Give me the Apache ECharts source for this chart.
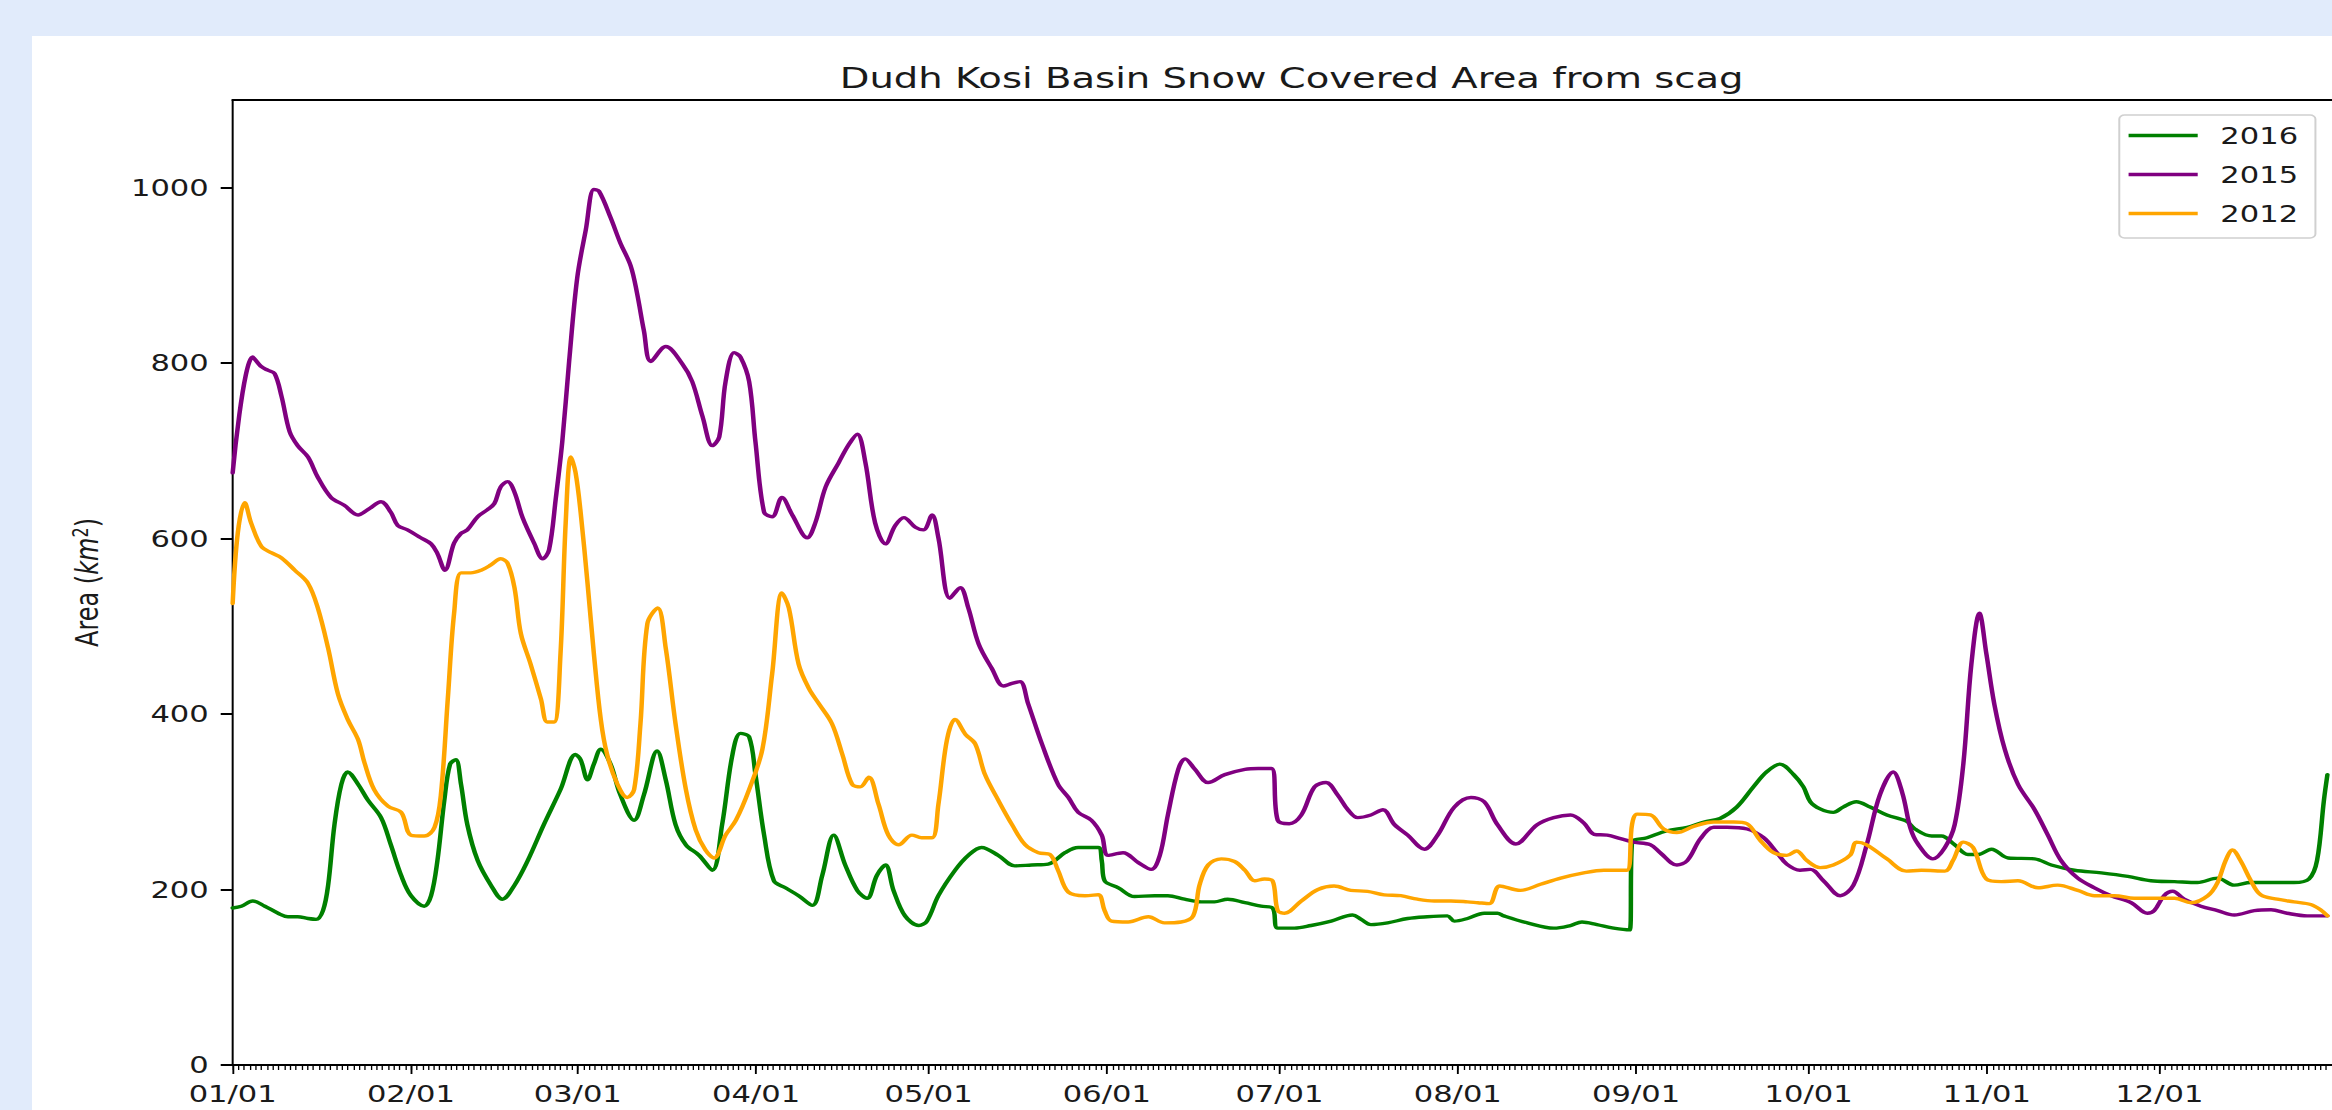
<!DOCTYPE html>
<html>
<head>
<meta charset="utf-8">
<title>Dudh Kosi Basin Snow Covered Area from scag</title>
<script src="https://cdn.jsdelivr.net/npm/echarts@6/dist/echarts.min.js"></script>
<style>
  html, body { margin: 0; padding: 0; width: 2332px; height: 1110px; overflow: hidden; background: #e1ebfb; }
  #panel { position: absolute; left: 32px; top: 36px; width: 2300px; height: 1074px; background: #ffffff; }
  /* the figure is laid out at its native width and stretched horizontally to fill the page */
  #chart { position: absolute; left: 0; top: 0; width: 1754px; height: 1110px; transform-origin: 0 0; }
</style>
</head>
<body>
<div id="panel"></div>
<div id="chart"></div>
<script>
// Day of year (2016 calendar, 0 = 01/01) for the first day of each month, and its tick label
const monthStartDays = [0, 31, 60, 91, 121, 152, 182, 213, 244, 274, 305, 335];
const monthLabels = ['01/01', '02/01', '03/01', '04/01', '05/01', '06/01',
                     '07/01', '08/01', '09/01', '10/01', '11/01', '12/01'];
const areaTicks = [0, 200, 400, 600, 800, 1000];

// 2016 snow covered area (km^2): day of year, value
const days2016 = [0, 1.5, 3.5, 5.6, 7.9, 9.6, 11.3, 13.1, 14.5, 15.7, 16.6, 17.7, 18.9, 20, 21.8, 23.5, 25.8, 27.5, 29.3, 31,
  33.3, 34.5, 35.6, 36.8, 37.8, 38.8, 39.7, 40.8, 42.6, 44.9, 46.9, 49, 51.3, 54.1, 57, 59.6, 60.5, 61.7, 62.8, 64,
  65.7, 67.4, 69.8, 71.5, 73.8, 75.3, 77, 78.8, 81.1, 83.4, 85.1, 86.9, 88.3, 89.8, 90.9, 92.4, 94.1, 96.1, 98.4, 100.8,
  102.5, 104.5, 106.5, 108.6, 110.3, 112, 113.5, 114.9, 116.9, 119.3, 120.7, 122.7, 125.6, 127.9, 130.2, 133.1, 136, 138.9, 141.8, 144.7,
  147, 150.5, 151.1, 151.6, 154, 156.8, 160.3, 162.6, 165.5, 168.4, 170.7, 173, 176, 178.8, 180.8, 181.7, 184.6, 187.5, 191, 194.7,
  196.2, 197.9, 200.8, 204.3, 207.7, 211.2, 212.4, 214.7, 217.6, 219.9, 221, 225.1, 229.7, 232.6, 234.6, 237.2, 240.1, 242.9, 243.3, 245.9,
  249.4, 252.9, 255.8, 258.6, 261.5, 264.4, 266.7, 269, 271.4, 273.1, 274.3, 276, 278.3, 280, 282.3, 284.7, 287.6, 291, 292.5, 295.4,
  297.1, 299.4, 301.7, 303.5, 305.8, 308.7, 313.3, 316.2, 320.2, 324.9, 329.5, 333.5, 337.6, 341.6, 345.1, 348, 350.9, 354.9, 358.4, 361,
  362.4, 363.6, 364.2];
const area2016 = [179, 181, 187, 181, 173, 169, 169, 167, 166, 176, 205, 274, 320, 334, 320, 302, 282, 251, 216, 193,
  181, 193, 233, 302, 343, 348, 320, 274, 233, 205, 189, 205, 233, 274, 314, 354, 348, 325, 343, 360,
  343, 308, 279, 308, 358, 325, 274, 251, 239, 222, 274, 354, 378, 374, 331, 262, 210, 202, 193, 182,
  216, 262, 228, 199, 190, 216, 228, 199, 170, 159, 164, 193, 222, 239, 248, 239, 227, 228, 229, 242,
  248, 248, 233, 210, 202, 192, 193, 193, 189, 186, 186, 189, 185, 181, 179, 156, 156, 159, 164, 171,
  166, 160, 162, 167, 169, 170, 164, 167, 173, 173, 170, 162, 156, 159, 163, 160, 156, 154, 254, 259,
  267, 271, 277, 281, 294, 317, 334, 343, 331, 317, 300, 292, 288, 294, 300, 294, 285, 278, 269, 261,
  261, 251, 240, 240, 246, 236, 235, 228, 222, 219, 215, 210, 209, 208, 213, 205, 208, 208, 208, 212,
  233, 302, 331];

// 2015 snow covered area (km^2)
const days2015 = [0, 3.5, 5, 6.1, 7.3, 8.5, 9.9, 11.3, 13.1, 14.8, 17.1, 19.4, 21.8, 23.5, 25.8, 27.5, 28.7, 30.4, 32.7, 34.5,
  35.6, 36.9, 38.5, 39.7, 40.8, 42.6, 44.3, 45.5, 46.6, 47.8, 49, 50.4, 52.4, 53.9, 55, 56.2, 57.3, 58.5, 59.9, 61.4,
  62.8, 63.7, 65.7, 67.4, 69.2, 70.3, 71.5, 72.7, 75.3, 78.2, 79.9, 81.7, 83.4, 84.6, 85.7, 87.2, 88.3, 89.8, 90.9, 92.4,
  93.8, 95.5, 97.3, 99.9, 101.3, 103.1, 105.4, 107.1, 108.6, 110, 111.7, 113.5, 115.2, 116.7, 118.7, 120.1, 121.6, 122.7, 124.7, 126.5,
  127.9, 129.7, 132, 134, 135.5, 136.9, 138.3, 140.7, 143.5, 145.3, 147, 149.3, 151.1, 152.2, 154.8, 157.4, 159.7, 161.2, 162.6, 164.4,
  165.6, 167.3, 169.6, 172.5, 176, 178.3, 180.6, 181.7, 183.7, 185.8, 188.1, 190.1, 192.1, 193.9, 195.6, 197.9, 200, 202, 204.3, 207.2,
  209.5, 212.4, 215.3, 217.6, 219.9, 223.1, 226.8, 229.7, 232.6, 234.9, 236.7, 239, 241.3, 243.6, 246.5, 248.2, 251.1, 252.9, 255.2, 257.5,
  259.8, 263.3, 266.2, 268.5, 270.2, 272.5, 274.3, 276.6, 279.5, 281.8, 284.1, 286.4, 288.7, 290.3, 291.7, 293, 295.6, 297.7, 299.4, 300.9,
  302.3, 303.7, 304.9, 306.3, 308.1, 310.4, 313.3, 315.6, 317.9, 320.8, 323.7, 326.6, 330.1, 332.9, 334.1, 335.8, 337.3, 339.3, 342.2, 345.1,
  348, 351.5, 354.4, 357.2, 360.7, 364.2];
const area2015 = [675, 807, 796, 792, 788, 762, 722, 706, 693, 670, 647, 638, 627, 633, 642, 630, 615, 610, 601, 594,
  583, 564, 595, 606, 610, 625, 633, 640, 659, 665, 653, 624, 595, 577, 587, 647, 710, 802, 897, 952,
  998, 996, 966, 937, 911, 880, 837, 802, 819, 799, 779, 739, 706, 716, 779, 812, 807, 779, 710, 630,
  625, 647, 627, 601, 618, 659, 687, 707, 719, 687, 618, 594, 615, 624, 613, 610, 627, 601, 532, 544,
  521, 480, 452, 432, 435, 437, 412, 366, 320, 305, 288, 279, 262, 239, 242, 231, 223, 239, 285, 337,
  349, 337, 322, 331, 337, 338, 338, 279, 275, 285, 317, 322, 308, 291, 282, 285, 291, 274, 262, 246,
  262, 294, 305, 300, 274, 252, 274, 282, 285, 276, 263, 262, 258, 254, 251, 242, 228, 233, 258, 271,
  271, 269, 259, 242, 229, 222, 223, 210, 193, 205, 251, 308, 334, 310, 270, 252, 235, 248, 274, 343,
  457, 515, 469, 411, 360, 320, 291, 262, 233, 213, 202, 193, 185, 173, 176, 193, 198, 189, 181, 176,
  171, 176, 177, 173, 170, 170];

// 2012 snow covered area (km^2)
const days2012 = [0, 0.9, 2.1, 3.2, 5, 6.7, 8.5, 10.8, 13.1, 14.8, 16.6, 18.3, 20, 21.8, 22.9, 24.6, 27, 29.3, 31, 33.3,
  35.1, 36.2, 37.4, 38.5, 39.7, 41.4, 43.2, 44.9, 46.6, 47.8, 49, 50.1, 51.8, 53.6, 54.7, 55.9, 57, 57.9, 58.8, 59.6,
  60.5, 61.7, 62.8, 64, 65.1, 66.9, 68.6, 69.8, 70.9, 72.1, 73.9, 75.3, 77, 78.8, 80.5, 82.2, 83.7, 85.7, 87.5, 89.8,
  92.1, 93.8, 95.5, 96.7, 98.4, 100.2, 101.9, 104.2, 106, 107.7, 109.1, 110.6, 112.3, 114, 115.8, 118.1, 119.8, 121.6, 122.7, 124.2,
  125.6, 127.4, 129.1, 130.8, 133.1, 135.5, 137.8, 140.1, 142.1, 143.5, 145.3, 148.2, 150.5, 151.6, 152.8, 155.7, 159.2, 162, 164.9, 167,
  168.1, 169.6, 171.9, 174.2, 176, 177.7, 179.4, 180.8, 181.7, 182.9, 185.8, 188.7, 191.5, 194.4, 197.3, 200.2, 203.1, 206, 208.9, 211.8,
  214.7, 216.5, 218.5, 220.3, 223.9, 227.4, 230.9, 234.9, 238.4, 242.4, 243.3, 244.2, 246.5, 248.8, 251.1, 254, 257.5, 261, 263.3, 265.6,
  267.9, 270.2, 271.9, 273.7, 276, 278.3, 281.2, 282.3, 284.1, 287.6, 291, 293.6, 297.7, 299.1, 300.9, 302.6, 304.9, 307.5, 310.4, 313.9,
  317.3, 320.8, 323.7, 327.2, 330.6, 334.1, 337.6, 340.5, 343.4, 345.1, 346.5, 347.7, 349.1, 350.9, 352.6, 355.5, 358.4, 361.3, 363, 364.2];
const area2012 = [526, 607, 641, 618, 591, 584, 578, 564, 549, 521, 475, 423, 394, 371, 345, 314, 295, 288, 262, 261,
  271, 308, 417, 515, 561, 561, 564, 570, 577, 572, 544, 492, 457, 417, 391, 391, 469, 618, 693, 676,
  630, 549, 469, 394, 354, 320, 305, 314, 389, 503, 521, 475, 389, 314, 268, 245, 236, 262, 279, 314,
  360, 446, 538, 521, 457, 429, 412, 389, 354, 320, 317, 328, 297, 262, 251, 262, 259, 259, 297, 371,
  394, 377, 366, 331, 302, 274, 251, 242, 240, 222, 197, 193, 194, 176, 164, 163, 169, 162, 163, 170,
  205, 228, 235, 232, 222, 210, 212, 210, 176, 173, 187, 200, 204, 199, 198, 194, 193, 189, 187, 187,
  186, 185, 184, 204, 199, 206, 213, 219, 222, 222, 274, 286, 285, 269, 265, 272, 277, 277, 275, 256,
  242, 239, 244, 233, 225, 228, 239, 254, 251, 235, 221, 222, 221, 233, 254, 248, 212, 209, 210, 202,
  205, 199, 193, 193, 190, 190, 190, 185, 193, 208, 233, 245, 233, 210, 194, 189, 186, 183, 177, 170];

const seriesDefs = [
  { name: '2016', days: days2016, area: area2016, color: '#008000' },
  { name: '2015', days: days2015, area: area2015, color: '#800080' },
  { name: '2012', days: days2012, area: area2012, color: '#ffa500' }
];

const PAGE_W = 2332;
const BASE_W = 1754;
const chartEl = document.getElementById('chart');
chartEl.style.transform = 'scaleX(' + (PAGE_W / BASE_W) + ')';

const FONT = 'DejaVu Sans';
const INK = '#1a1a1a';
const GRID = { left: 175, top: 100, width: 1583, height: 965 };

const chart = echarts.init(chartEl, null, { renderer: 'svg' });

chart.setOption({
  animation: false,
  backgroundColor: 'transparent',
  textStyle: { fontFamily: FONT, color: INK },
  title: {
    text: 'Dudh Kosi Basin Snow Covered Area from scag',
    left: GRID.left + GRID.width / 2,
    top: 58,
    textAlign: 'center',
    textStyle: { fontFamily: FONT, fontSize: 29, fontWeight: 'normal', color: INK }
  },
  legend: {
    orient: 'vertical',
    left: 1594,
    top: 115,
    align: 'left',
    padding: [8, 13, 12, 7],
    itemGap: 14,
    itemWidth: 52,
    itemHeight: 3.5,
    icon: 'rect',
    backgroundColor: '#ffffff',
    borderColor: '#d0d0d0',
    borderWidth: 1.5,
    borderRadius: 4,
    textStyle: { fontFamily: FONT, fontSize: 23, color: INK, lineHeight: 25, padding: [0, 0, 0, 12] },
    data: seriesDefs.map(s => s.name)
  },
  grid: GRID,
  xAxis: [
    {
      // month ticks and labels
      type: 'value', min: 0, max: 365, position: 'bottom',
      axisLine: { show: true, onZero: false, lineStyle: { color: '#000', width: 2 } },
      axisTick: { show: true, customValues: monthStartDays, length: 9, lineStyle: { color: '#000', width: 1.4 } },
      axisLabel: {
        show: true, customValues: monthStartDays, margin: 17,
        fontFamily: FONT, fontSize: 23, color: INK,
        formatter: v => monthLabels[monthStartDays.indexOf(v)]
      },
      splitLine: { show: false }
    },
    {
      // daily minor ticks
      type: 'value', min: 0, max: 365, interval: 1, position: 'bottom',
      axisLine: { show: false },
      axisTick: { show: true, length: 5, lineStyle: { color: '#000', width: 1 } },
      axisLabel: { show: false },
      splitLine: { show: false }
    },
    {
      // top spine
      type: 'value', min: 0, max: 365, position: 'top',
      axisLine: { show: true, onZero: false, lineStyle: { color: '#000', width: 2 } },
      axisTick: { show: false }, axisLabel: { show: false }, splitLine: { show: false }
    }
  ],
  yAxis: {
    type: 'value', min: 0, max: 1100,
    axisLine: { show: true, onZero: false, lineStyle: { color: '#000', width: 1.5 } },
    axisTick: { show: true, customValues: areaTicks, length: 9, lineStyle: { color: '#000', width: 2 } },
    axisLabel: {
      show: true, customValues: areaTicks, margin: 18, fontFamily: FONT, fontSize: 23, color: INK,
      formatter: v => String(v)
    },
    splitLine: { show: false },
    name: 'Area ({i|km}{sup|2})',
    nameLocation: 'middle',
    nameRotate: 90,
    nameGap: 96,
    nameTextStyle: {
      fontFamily: FONT, fontSize: 24, color: INK,
      rich: {
        i: { fontFamily: FONT, fontSize: 24, fontStyle: 'italic', color: INK },
        sup: { fontFamily: FONT, fontSize: 16, color: INK, verticalAlign: 'top', padding: [0, 0, 10, 0] }
      }
    }
  },
  series: seriesDefs.map(s => ({
    name: s.name,
    type: 'line',
    xAxisIndex: 0,
    data: s.days.map((d, i) => [d, s.area[i]]),
    showSymbol: false,
    smooth: 0.35,
    color: s.color,
    lineStyle: { color: s.color, width: 3.4, join: 'round', cap: 'round' },
    emphasis: { disabled: true }
  }))
});
</script>
</body>
</html>
